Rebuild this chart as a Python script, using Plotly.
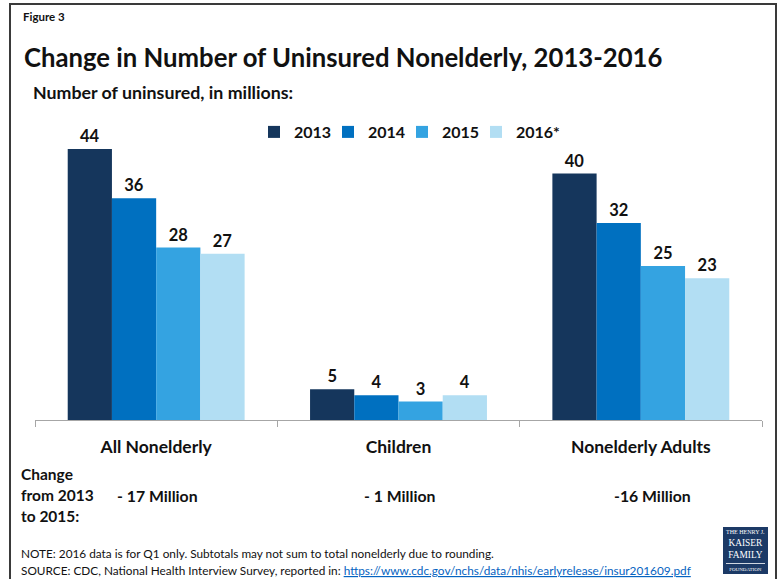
import plotly.graph_objects as go

# Uninsured nonelderly, in millions
categories = ["All Nonelderly", "Children", "Nonelderly Adults"]
years = ["2013", "2014", "2015", "2016*"]
uninsured_2013 = [44, 5, 40]
uninsured_2014 = [36, 4, 32]
uninsured_2015 = [28, 3, 25]
uninsured_2016 = [27, 4, 23]
change_labels = ["- 17 Million", "- 1 Million", "-16 Million"]

series = [uninsured_2013, uninsured_2014, uninsured_2015, uninsured_2016]
colors = ["#15365C", "#0070C0", "#34A3E1", "#B2DEF3"]

W, H = 779, 579
ML, MR, MT, MB = 35, 17, 112, 159
PW, PH = W - ML - MR, H - MT - MB
FONT = "Lato"


def fx(px):
    return (px - ML) / PW


def fy(py):
    return (H - MB - py) / PH


fig = go.Figure()
for name, vals, col in zip(years, series, colors):
    fig.add_trace(go.Bar(
        x=categories, y=vals, name=name, marker=dict(color=col, line=dict(width=0)),
        texttemplate="%{y}", textposition="outside",
        textfont=dict(family=FONT, size=16.5, color="#111111", weight="bold"),
        cliponaxis=False,
    ))

# blank trailing legend slot so the last entry keeps its full label
fig.add_trace(go.Scatter(
    x=[categories[1]], y=[0], mode="markers", name=" ", hoverinfo="skip",
    marker=dict(color="rgba(0,0,0,0)", size=1),
))

annotations = []


def text(px, py, s, size, anchor="left", bold=True, color="#111111", family=FONT):
    annotations.append(dict(
        x=fx(px), y=fy(py), xref="paper", yref="paper", text=s, showarrow=False,
        xanchor=anchor, yanchor="middle",
        font=dict(family=family, size=size, color=color, weight="bold" if bold else "normal"),
    ))


text(21, 17, "Figure 3", 11.5)
text(22, 57, "Change in Number of Uninsured Nonelderly, 2013-2016", 25.7)
text(31, 92, "Number of uninsured, in millions:", 17.8)

text(19, 474, "Change", 15.5)
text(19, 495, "from 2013", 15.5)
text(19, 516, "to 2015:", 15.5)
for cx, lab in zip([157, 399, 652], change_labels):
    text(cx, 495, lab, 15.8, anchor="center")

text(19, 553, "NOTE: 2016 data is for Q1 only. Subtotals may not sum to total nonelderly due to rounding.",
     11.8, bold=False)
text(19, 570, "SOURCE: CDC, National Health Interview Survey, reported in: "
     "<span style='color:#0563C1'><u>https://www.cdc.gov/nchs/data/nhis/earlyrelease/insur201609.pdf</u></span>",
     11.8, bold=False)

# Foundation logo block
logo_x0, logo_x1, logo_y0, logo_y1 = 723, 768, 527, 574
logo_cx = (logo_x0 + logo_x1) / 2
annotations.append(dict(
    x=fx(logo_cx), y=fy(550.5), xref="paper", yref="paper", showarrow=False,
    xanchor="center", yanchor="middle",
    text="<span style='font-size:6px'>THE HENRY J.</span><br>KAISER<br>FAMILY<br>"
         "<span style='font-size:5px'>FOUNDATION</span>",
    font=dict(family="Liberation Serif", size=9.4, color="white"),
))

shapes = [
    # outer frame
    dict(type="rect", xref="paper", yref="paper", x0=fx(10), x1=fx(776), y0=fy(4), y1=fy(590),
         line=dict(color="#3A3A3A", width=2), fillcolor="rgba(0,0,0,0)", layer="below"),
    dict(type="rect", xref="paper", yref="paper", x0=fx(logo_x0), x1=fx(logo_x1),
         y0=fy(logo_y0), y1=fy(logo_y1), line=dict(width=0), fillcolor="#1C3A66", layer="below"),
    dict(type="line", xref="paper", yref="paper", x0=fx(logo_x0 + 3), x1=fx(logo_x1 - 3),
         y0=fy(563.5), y1=fy(563.5), line=dict(color="white", width=0.8)),
]

fig.update_layout(
    width=W, height=H,
    margin=dict(l=ML, r=MR, t=MT, b=MB),
    paper_bgcolor="white", plot_bgcolor="white",
    barmode="group", bargap=0.27, bargroupgap=0,
    font=dict(family=FONT, color="#111111"),
    showlegend=True,
    legend=dict(
        orientation="h", x=fx(254), y=fy(132), xanchor="left", yanchor="middle",
        font=dict(family=FONT, size=16, color="#111111", weight="bold"),
        entrywidth=29, entrywidthmode="pixels", itemwidth=30,
        bgcolor="rgba(0,0,0,0)", traceorder="normal",
    ),
    xaxis=dict(
        showgrid=False, showline=True, linecolor="#A6A6A6", linewidth=1,
        ticks="outside", tickson="boundaries", ticklen=6, tickcolor="#A6A6A6",
        tickfont=dict(family=FONT, size=17.5, color="#111111", weight="bold"),
        ticklabelstandoff=11,
    ),
    yaxis=dict(range=[0, 50], visible=False, showgrid=False, zeroline=False),
    annotations=annotations,
    shapes=shapes,
)

fig.write_html("out.html")
